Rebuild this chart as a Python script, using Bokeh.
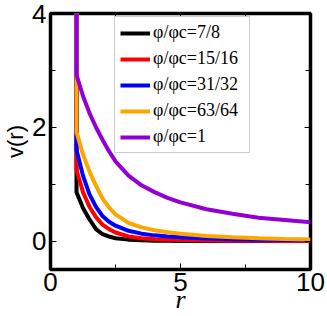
from bokeh.plotting import figure
from bokeh.models import Range1d, FixedTicker, LinearAxis, Legend, LegendItem
from bokeh.embed import file_html
from bokeh.resources import INLINE

# ---- data ----
r_wall = 1.0          # hard-core contact distance
v_wall = 10.0         # stands for v -> infinity inside the core
r = [1.0, 1.25, 1.5, 1.75, 2.0, 2.25, 2.5, 3.0, 3.5, 4.0, 4.5, 5.0, 6.0, 7.0, 8.0, 9.0, 10.0]
v_7_8   = [0.86, 0.58, 0.38, 0.21, 0.12, 0.08, 0.05, 0.025, 0.013, 0.007, 0.004, 0.003, 0.001, 0.0, 0.0, 0.0, 0.0]
v_15_16 = [1.25, 0.86, 0.60, 0.42, 0.29, 0.21, 0.15, 0.08, 0.05, 0.033, 0.024, 0.017, 0.01, 0.006, 0.004, 0.003, 0.002]
v_31_32 = [1.60, 1.15, 0.82, 0.60, 0.44, 0.34, 0.27, 0.18, 0.13, 0.10, 0.08, 0.065, 0.045, 0.033, 0.025, 0.02, 0.015]
v_63_64 = [1.92, 1.52, 1.22, 0.97, 0.75, 0.59, 0.47, 0.32, 0.24, 0.19, 0.155, 0.13, 0.09, 0.065, 0.048, 0.036, 0.028]
v_1     = [2.92, 2.55, 2.25, 2.00, 1.78, 1.58, 1.40, 1.15, 0.98, 0.86, 0.76, 0.68, 0.56, 0.48, 0.41, 0.37, 0.33]

series_labels = ["φ/φc=7/8", "φ/φc=15/16", "φ/φc=31/32", "φ/φc=63/64", "φ/φc=1"]
series_values = [v_7_8, v_15_16, v_31_32, v_63_64, v_1]
series_colors = ["#000000", "#ff0000", "#0000ff", "#ffa500", "#9400d3"]

x_major = [0, 5, 10]
x_minor = [2.5, 7.5]
y_major = [0, 2, 4]
y_minor = [1, 3]
x_title = "r"
y_title = "v(r)"

p = figure(width=327, height=316, output_backend="svg", toolbar_location=None,
           x_range=Range1d(0, 10), y_range=Range1d(-0.5, 4),
           min_border_left=49, min_border_right=17, min_border_top=13, min_border_bottom=47)
p.xgrid.visible = False
p.ygrid.visible = False
p.outline_line_color = "black"
p.outline_line_width = 3.5
p.background_fill_color = "white"
p.border_fill_color = "white"

def style_axis(ax, show_labels):
    ax.axis_line_color = None
    ax.major_tick_in = 6
    ax.major_tick_out = 0
    ax.minor_tick_in = 5
    ax.minor_tick_out = 0
    ax.major_tick_line_color = "black"
    ax.minor_tick_line_color = "black"
    ax.major_tick_line_width = 1
    ax.minor_tick_line_width = 1
    if show_labels:
        ax.major_label_text_font = "Liberation Sans"
        ax.major_label_text_font_size = "26px"
        ax.major_label_text_color = "black"
        ax.major_label_standoff = 3
    else:
        ax.major_label_text_font_size = "1px"
        ax.major_label_standoff = 0

p.xaxis.ticker = FixedTicker(ticks=x_major, minor_ticks=x_minor)
p.yaxis.ticker = FixedTicker(ticks=y_major, minor_ticks=y_minor)
style_axis(p.xaxis[0], True)
style_axis(p.yaxis[0], True)
p.yaxis.major_label_standoff = 4

p.xaxis.axis_label = x_title
p.xaxis.axis_label_text_font = "Liberation Serif"
p.xaxis.axis_label_text_font_style = "italic"
p.xaxis.axis_label_text_font_size = "26px"
p.xaxis.axis_label_text_color = "black"
p.xaxis.axis_label_standoff = -9

p.yaxis.axis_label = y_title
p.yaxis.axis_label_text_font = "Liberation Sans"
p.yaxis.axis_label_text_font_style = "normal"
p.yaxis.axis_label_text_font_size = "22px"
p.yaxis.axis_label_text_color = "black"
p.yaxis.axis_label_standoff = 1

ax_top = LinearAxis(ticker=FixedTicker(ticks=x_major, minor_ticks=x_minor),
                    major_label_overrides={t: "" for t in x_major})
style_axis(ax_top, False)
p.add_layout(ax_top, "above")
ax_right = LinearAxis(ticker=FixedTicker(ticks=y_major, minor_ticks=y_minor),
                      major_label_overrides={t: "" for t in y_major})
style_axis(ax_right, False)
p.add_layout(ax_right, "right")

items = []
for lab, vals, col in zip(series_labels, series_values, series_colors):
    rr = [r_wall] + r
    vv = [v_wall] + vals
    rend = p.line(rr, vv, line_color=col, line_width=4)
    items.append(LegendItem(label=lab, renderers=[rend]))

legend = Legend(items=items, location=(64, 116),
                label_text_font="Liberation Serif", label_text_font_size="18px",
                label_text_font_style="normal",
                label_text_color="black", glyph_width=30, glyph_height=20,
                label_height=20, label_width=91, label_standoff=3, spacing=5, padding=5, margin=0,
                border_line_color="#999999", border_line_width=1,
                background_fill_color="white", background_fill_alpha=1)
p.add_layout(legend, "center")

open("out.html", "w").write(file_html(p, INLINE))
